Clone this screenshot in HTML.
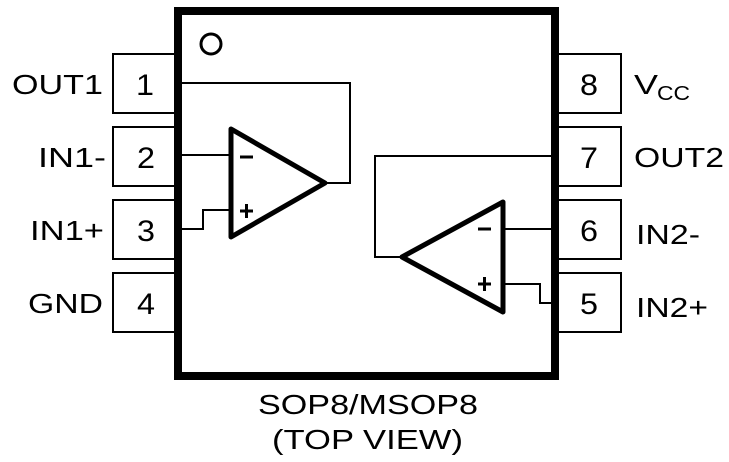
<!DOCTYPE html>
<html><head><style>body{margin:0;background:#fff}svg{display:block}</style></head><body>
<svg width="729" height="462" viewBox="0 0 729 462" xmlns="http://www.w3.org/2000/svg" font-family="Liberation Sans, sans-serif">
<g fill="none" stroke="#000" stroke-width="2">
<rect x="113" y="54" width="64" height="59"/>
<rect x="113" y="127" width="64" height="59"/>
<rect x="113" y="200" width="64" height="59"/>
<rect x="113" y="273" width="64" height="59"/>
<rect x="553" y="54" width="68" height="59"/>
<rect x="553" y="127" width="68" height="59"/>
<rect x="553" y="200" width="68" height="59"/>
<rect x="553" y="273" width="68" height="59"/>
</g>
<rect x="178" y="11" width="377" height="365" fill="#fff" stroke="#000" stroke-width="8"/>
<circle cx="211" cy="44" r="10" fill="none" stroke="#000" stroke-width="3"/>
<g fill="none" stroke="#000" stroke-width="2">
<polyline points="182,83 350,83 350,183 325,183"/>
<line x1="182" y1="155" x2="231" y2="155"/>
<polyline points="182,229 203,229 203,210 231,210"/>
<polyline points="551,156 375,156 375,257 402,257"/>
<line x1="503" y1="229" x2="551" y2="229"/>
<polyline points="503,284 540,284 540,303 551,303"/>
</g>
<g fill="none" stroke="#000" stroke-width="5" stroke-linejoin="round">
<polygon points="231,129 231,237 325,183"/>
<polygon points="503,202 503,312 402,257"/>
</g>
<g stroke="#000" stroke-width="3">
<line x1="240" y1="157" x2="253" y2="157"/>
<line x1="240" y1="211" x2="253" y2="211"/><line x1="246.5" y1="204" x2="246.5" y2="218"/>
<line x1="478" y1="229" x2="491" y2="229"/>
<line x1="478" y1="284" x2="491" y2="284"/><line x1="484.5" y1="277" x2="484.5" y2="291"/>
</g>
<g font-size="30" fill="#000">
<text x="136" y="95" textLength="18" lengthAdjust="spacingAndGlyphs">1</text>
<text x="137" y="168" textLength="18" lengthAdjust="spacingAndGlyphs">2</text>
<text x="137" y="241" textLength="18" lengthAdjust="spacingAndGlyphs">3</text>
<text x="137" y="314" textLength="18" lengthAdjust="spacingAndGlyphs">4</text>
<text x="580" y="95" textLength="18" lengthAdjust="spacingAndGlyphs">8</text>
<text x="580" y="168" textLength="18" lengthAdjust="spacingAndGlyphs">7</text>
<text x="580" y="241" textLength="18" lengthAdjust="spacingAndGlyphs">6</text>
<text x="580" y="314" textLength="18" lengthAdjust="spacingAndGlyphs">5</text>
</g>
<g font-size="28" fill="#000">
<text x="12" y="94" textLength="91" lengthAdjust="spacingAndGlyphs">OUT1</text>
<text x="38" y="167" textLength="68" lengthAdjust="spacingAndGlyphs">IN1-</text>
<text x="30" y="240" textLength="74" lengthAdjust="spacingAndGlyphs">IN1+</text>
<text x="28" y="313" textLength="75" lengthAdjust="spacingAndGlyphs">GND</text>
<text x="634" y="94" textLength="24" lengthAdjust="spacingAndGlyphs">V</text>
<text x="657" y="100" font-size="20" textLength="33" lengthAdjust="spacingAndGlyphs">CC</text>
<text x="634" y="167" textLength="90" lengthAdjust="spacingAndGlyphs">OUT2</text>
<text x="636" y="244" textLength="64" lengthAdjust="spacingAndGlyphs">IN2-</text>
<text x="636" y="317" textLength="72" lengthAdjust="spacingAndGlyphs">IN2+</text>
<text x="258" y="414" textLength="220" lengthAdjust="spacingAndGlyphs">SOP8/MSOP8</text>
<text x="272" y="449" textLength="191" lengthAdjust="spacingAndGlyphs">(TOP VIEW)</text>
</g>
</svg>
</body></html>
